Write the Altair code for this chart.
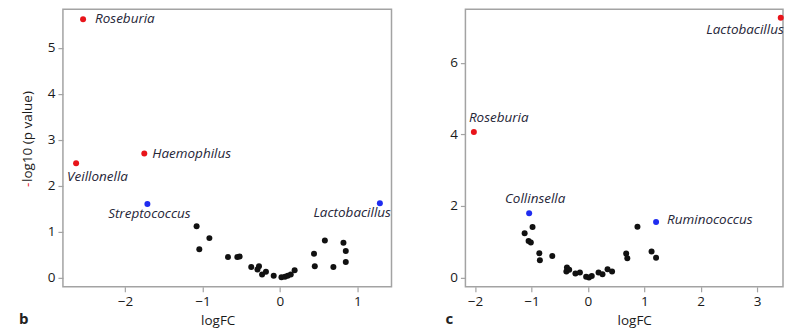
import altair as alt
import pandas as pd

# ---------------- Panel b ----------------
b_named_genus = ["Roseburia", "Veillonella", "Haemophilus", "Streptococcus", "Lactobacillus"]
b_named_logfc = [-2.54, -2.63, -1.75, -1.71, 1.29]
b_named_p = [5.62, 2.49, 2.70, 1.60, 1.62]
b_named_class = ["red", "red", "red", "blue", "blue"]

b_other_logfc = [-1.075, -1.04, -0.91, -0.67, -0.55, -0.52, -0.37, -0.27, -0.29, -0.23,
                 -0.18, -0.08, 0.02, 0.065, 0.10, 0.14, 0.19, 0.44, 0.45, 0.58,
                 0.69, 0.82, 0.85, 0.85]
b_other_p = [1.12, 0.62, 0.86, 0.45, 0.45, 0.46, 0.23, 0.25, 0.18, 0.07,
             0.13, 0.04, 0.01, 0.02, 0.04, 0.07, 0.16, 0.52, 0.25, 0.81,
             0.23, 0.76, 0.58, 0.34]

# ---------------- Panel c ----------------
c_named_genus = ["Lactobacillus", "Roseburia", "Collinsella", "Ruminococcus"]
c_named_logfc = [3.42, -2.02, -1.04, 1.21]
c_named_p = [7.26, 4.07, 1.80, 1.55]
c_named_class = ["red", "red", "blue", "blue"]

c_other_logfc = [-1.12, -0.98, -1.05, -1.01, -0.86, -0.85, -0.63, -0.37, -0.38, -0.33,
                 -0.22, -0.14, -0.03, 0.02, 0.07, 0.19, 0.26, 0.35, 0.43, 0.68,
                 0.70, 0.88, 1.13, 1.21]
c_other_p = [1.24, 1.41, 1.02, 0.98, 0.68, 0.48, 0.60, 0.28, 0.17, 0.22,
             0.11, 0.14, 0.02, 0.00, 0.04, 0.14, 0.09, 0.23, 0.17, 0.67,
             0.54, 1.42, 0.73, 0.55]

FONT = "Open Sans"
FRAME = "#a3a3a3"


def make_df(gn, gx, gy, gc, ox, oy):
    named = pd.DataFrame({"genus": gn, "logFC": gx, "p": gy, "cls": gc})
    other = pd.DataFrame({"genus": [""] * len(ox), "logFC": ox, "p": oy, "cls": ["black"] * len(ox)})
    return pd.concat([other, named], ignore_index=True)


def panel(df, xdom, ydom, xticks, yticks, width, height, label_specs, letter, ytitle, title_x):
    base = alt.Chart(df)
    x = alt.X("logFC:Q", scale=alt.Scale(domain=xdom, nice=False, zero=False),
              axis=alt.Axis(values=xticks, title="logFC", format="d", titleX=title_x))
    y = alt.Y("p:Q", scale=alt.Scale(domain=ydom, nice=False, zero=False),
              axis=alt.Axis(values=yticks, title=None, format="d"))
    pts = base.mark_circle(size=36, opacity=1).encode(
        x=x, y=y,
        color=alt.Color("cls:N", scale=alt.Scale(domain=["red", "blue", "black"],
                                                 range=["#e8141a", "#1f2cf0", "#111111"]),
                        legend=None),
    )
    layers = [pts]
    for name, align, dx, dy in label_specs:
        layers.append(
            base.transform_filter(alt.datum.genus == name)
            .mark_text(align=align, baseline="middle", dx=dx, dy=dy, font=FONT,
                       fontStyle="italic", fontSize=13.5, color="#262638")
            .encode(x="logFC:Q", y="p:Q", text="genus:N")
        )
    letter_df = pd.DataFrame({"t": [letter]})
    layers.append(
        alt.Chart(letter_df).mark_text(align="left", baseline="alphabetic", font=FONT,
                                       fontWeight="bold", fontSize=15, color="#222")
        .encode(x=alt.value(-44 if ytitle else -20), y=alt.value(315), text="t:N")
    )
    if ytitle:
        t1 = pd.DataFrame({"t": ["-"]})
        t2 = pd.DataFrame({"t": ["log10 (p value)"]})
        layers.append(
            alt.Chart(t1).mark_text(align="left", baseline="middle", angle=270, font=FONT,
                                    fontSize=13.5, color="#e8141a")
            .encode(x=alt.value(-34.5), y=alt.value(178), text="t:N")
        )
        layers.append(
            alt.Chart(t2).mark_text(align="left", baseline="middle", angle=270, font=FONT,
                                    fontSize=13.5, color="#1a1a1a")
            .encode(x=alt.value(-34.5), y=alt.value(173), text="t:N")
        )
    return alt.layer(*layers).properties(width=width, height=height)


df_b = make_df(b_named_genus, b_named_logfc, b_named_p, b_named_class, b_other_logfc, b_other_p)
df_c = make_df(c_named_genus, c_named_logfc, c_named_p, c_named_class, c_other_logfc, c_other_p)

left = panel(
    df_b, [-2.80, 1.44], [-0.2, 5.84], [-2, -1, 0, 1], [0, 1, 2, 3, 4, 5], 329, 278,
    [("Roseburia", "left", 12, 0), ("Haemophilus", "left", 8, 0),
     ("Veillonella", "left", -9, 14), ("Streptococcus", "center", 2, 10),
     ("Lactobacillus", "right", 11, 10)],
    "b", True, 155,
)
right = panel(
    df_c, [-2.17, 3.46], [-0.26, 7.5], [-2, -1, 0, 1, 2, 3], [0, 2, 4, 6], 318, 278,
    [("Lactobacillus", "right", 3, 12), ("Roseburia", "left", -5, -14),
     ("Collinsella", "center", 6, -14), ("Ruminococcus", "left", 11, -2)],
    "c", False, 169,
)

chart = alt.hconcat(left, right, spacing=52).properties(
    padding={"left": 10, "top": 0, "right": 0, "bottom": 0}
).configure_view(
    stroke=FRAME, strokeWidth=1.5
).configure_axis(
    grid=False, domain=False, tickColor=FRAME, tickSize=5, tickWidth=1.2,
    labelFont=FONT, labelFontSize=13.5, labelColor="#1a1a1a", labelPadding=3,
    titleFont=FONT, titleFontSize=13.5, titleColor="#1a1a1a", titleFontWeight="normal",
    titlePadding=5,
)

chart.save("out.html", embed_options={"renderer": "svg", "actions": False})
